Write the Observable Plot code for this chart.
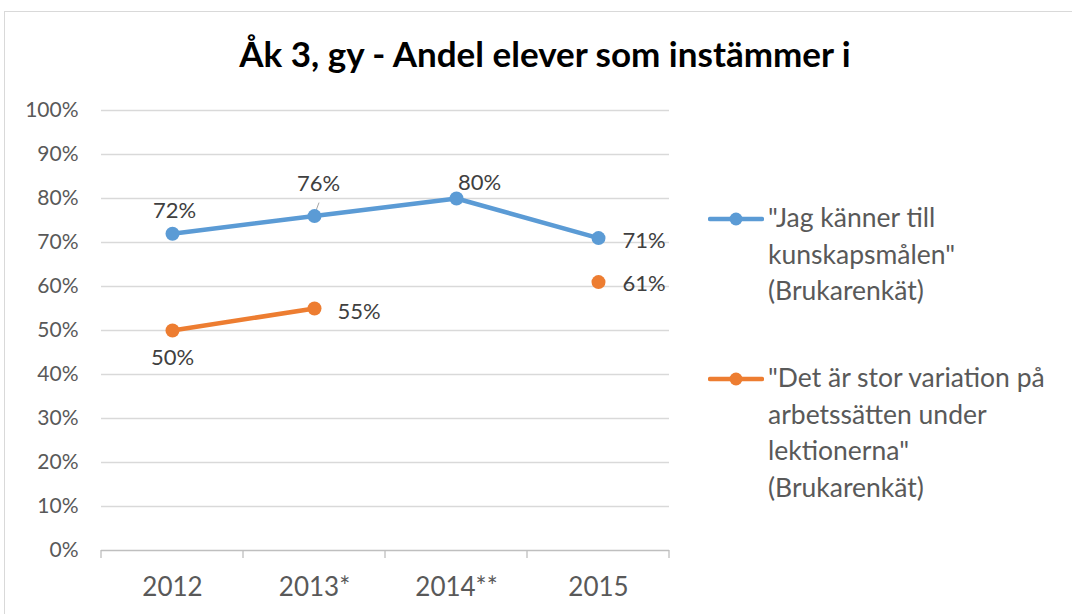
<!DOCTYPE html>
<html>
<head>
<meta charset="utf-8">
<script src="https://cdn.jsdelivr.net/npm/d3@7"></script>
<script src="https://cdn.jsdelivr.net/npm/@observablehq/plot@0.6"></script>
<style>
  html, body { margin: 0; padding: 0; background: #fff; }
  body { width: 1072px; height: 614px; overflow: hidden; position: relative; font-family: Lato, "Open Sans", sans-serif; }
  #frame { position: absolute; left: 4px; top: 11px; width: 1100px; height: 700px; border: 1.5px solid #d9d9d9; box-sizing: border-box; }
  #title { position: absolute; left: 0; top: 31px; width: 1090px; text-align: center; font-weight: bold; font-size: 35px; color: #000; line-height: 44px; }
  #chart { position: absolute; left: 0; top: 90px; }
  #legend { position: absolute; left: 708px; top: 0; color: #595959; font-size: 26.5px; }
  .lg { position: absolute; left: 0; display: flex; align-items: flex-start; }
  .lg svg { flex: none; margin-top: 8px; }
  .lg div { margin-left: 4px; line-height: 36.7px; white-space: nowrap; }
</style>
</head>
<body>
<div id="frame"></div>
<div id="title"></div>
<div id="chart"></div>
<div id="legend"></div>
<script>
// ---- data ----
const titleText = "Åk 3, gy - Andel elever som instämmer i";
const categories = ["2012", "2013*", "2014**", "2015"];
const seriesNames = [
  "\"Jag känner till kunskapsmålen\" (Brukarenkät)",
  "\"Det är stor variation på arbetssätten under lektionerna\" (Brukarenkät)"
];
const legendLines = [
  ["\"Jag känner till", "kunskapsmålen\"", "(Brukarenkät)"],
  ["\"Det är stor variation på", "arbetssätten under", "lektionerna\"", "(Brukarenkät)"]
];
const jagValues = [0.72, 0.76, 0.80, 0.71];
const variationValues = [0.50, 0.55, null, 0.61];
const yTicks = [0, 0.1, 0.2, 0.3, 0.4, 0.5, 0.6, 0.7, 0.8, 0.9, 1.0];

// ---- styling (kept apart from data) ----
const colors = ["#5B9BD5", "#ED7D31"];
const labelPlacement = [
  [{dx: 2, dy: -23, anchor: "middle"}, {dx: 4, dy: -32, anchor: "middle"}, {dx: 23, dy: -16, anchor: "middle"}, {dx: 24, dy: 3, anchor: "start"}],
  [{dx: 0, dy: 27, anchor: "middle"}, {dx: 23, dy: 3, anchor: "start"}, null, {dx: 24, dy: 2, anchor: "start"}]
];

document.getElementById("title").textContent = titleText;

const allValues = [jagValues, variationValues];
const rows = allValues.map((vals, s) =>
  categories.map((c, i) => ({category: c, value: vals[i], series: seriesNames[s], s, i}))
);

const fmt = d3.format(".0%");

const gridAndTicks = (index, scales) => {
  const ns = "http://www.w3.org/2000/svg";
  const g = document.createElementNS(ns, "g");
  const xs = categories.map(c => scales.x(c));
  const step = xs[1] - xs[0];
  const bounds = [xs[0] - step / 2, ...xs.map(x => x + step / 2)];
  const y0 = scales.y(0);
  for (const b of bounds) {
    const l = document.createElementNS(ns, "line");
    l.setAttribute("x1", b); l.setAttribute("x2", b);
    l.setAttribute("y1", y0); l.setAttribute("y2", y0 + 8);
    l.setAttribute("stroke", "#bfbfbf"); l.setAttribute("stroke-width", "1.3");
    g.appendChild(l);
  }
  // leader line for 2013 label of first series
  const px = scales.x(categories[1]), py = scales.y(jagValues[1]);
  const ld = document.createElementNS(ns, "line");
  ld.setAttribute("x1", px + 2); ld.setAttribute("y1", py - 5);
  ld.setAttribute("x2", px + 5); ld.setAttribute("y2", py - 13);
  ld.setAttribute("stroke", "#a6a6a6"); ld.setAttribute("stroke-width", "1");
  g.appendChild(ld);
  return g;
};

const labelMarks = [];
rows.forEach((r, s) => {
  r.forEach((d, i) => {
    const p = labelPlacement[s][i];
    if (d.value == null || !p) return;
    labelMarks.push(Plot.text([d], {
      x: "category", y: "value", text: dd => fmt(dd.value),
      dx: p.dx, dy: p.dy, textAnchor: p.anchor,
      fontSize: 22, fill: "#404040"
    }));
  });
});

const chart = Plot.plot({
  width: 1072,
  height: 524,
  marginTop: 20,
  marginBottom: 64,
  marginLeft: 101,
  marginRight: 403,
  style: {fontFamily: "Lato, 'Open Sans', sans-serif", background: "transparent", overflow: "visible"},
  x: {type: "point", domain: categories, padding: 0.5, label: null},
  y: {domain: [0, 1], label: null},
  marks: [
    Plot.ruleY(yTicks.slice(1), {stroke: "#d9d9d9", strokeWidth: 1.3}),
    Plot.ruleY([0], {stroke: "#bfbfbf", strokeWidth: 1.3}),
    gridAndTicks,
    Plot.axisY({ticks: yTicks, tickFormat: fmt, tickSize: 0, tickPadding: 23, fontSize: 21, fill: "#595959", label: null}),
    Plot.axisX({tickSize: 0, tickPadding: 27, fontSize: 26, fill: "#595959", label: null}),
    ...rows.map((r, s) => Plot.line(r, {x: "category", y: "value", stroke: colors[s], strokeWidth: 4.5})),
    ...rows.map((r, s) => Plot.dot(r.filter(d => d.value != null), {x: "category", y: "value", r: 7, fill: colors[s], stroke: "none"})),
    ...labelMarks
  ]
});
document.getElementById("chart").appendChild(chart);

// legend
const legend = document.getElementById("legend");
const legendTops = [199, 359];
legendLines.forEach((lines, s) => {
  const item = document.createElement("div");
  item.className = "lg";
  item.style.top = legendTops[s] + "px";
  item.innerHTML = `<svg width="56" height="24"><line x1="2" x2="54" y1="12" y2="12" stroke="${colors[s]}" stroke-width="4.5" stroke-linecap="round"/><circle cx="28" cy="12" r="6.5" fill="${colors[s]}"/></svg>`;
  const t = document.createElement("div");
  t.innerHTML = lines.map(l => l.replace(/&/g, "&amp;").replace(/</g, "&lt;")).join("<br>");
  item.appendChild(t);
  legend.appendChild(item);
});
</script>
</body>
</html>
